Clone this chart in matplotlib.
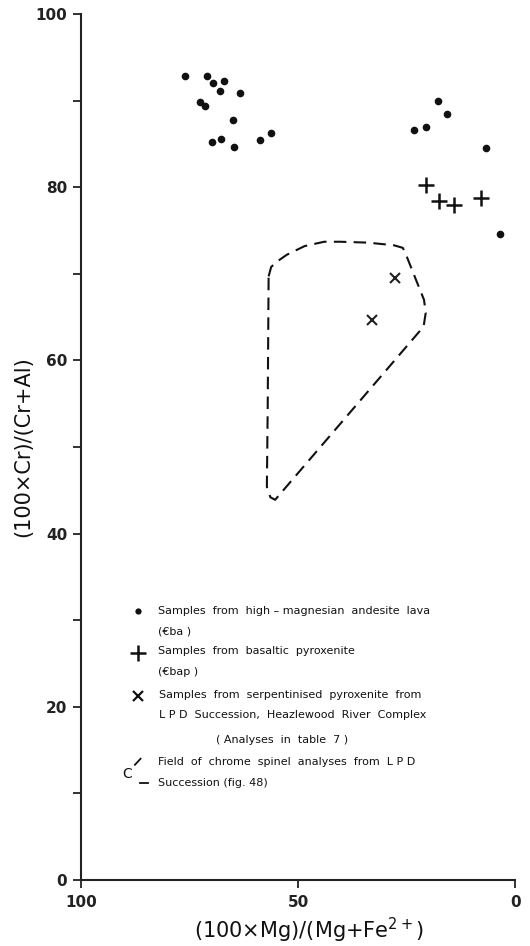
import matplotlib
matplotlib.use('Agg')
import matplotlib.pyplot as plt

# high-magnesian andesite lava (dots)
lava_x = [76.0, 71.0, 69.6, 67.0, 67.9, 63.4, 72.6, 71.4, 65.0, 69.9, 67.7, 64.7, 58.8, 56.3,
          17.8, 15.6, 23.4, 20.5, 6.8, 3.5]
lava_y = [92.8, 92.8, 92.0, 92.3, 91.1, 90.9, 89.8, 89.4, 87.8, 85.2, 85.6, 84.6, 85.5, 86.3,
          89.9, 88.5, 86.6, 87.0, 84.5, 74.6]
# basaltic pyroxenite (plus)
bap_x = [20.5, 17.6, 14.2, 7.8]
bap_y = [80.2, 78.4, 77.9, 78.8]
# serpentinised pyroxenite (x)
serp_x = [27.6, 33.0]
serp_y = [69.5, 64.7]
# field of chrome spinel analyses, LPD Succession (dashed outline)
field_x = [56.8, 56.2, 54.6, 52.6, 48.5, 44.0, 40.3, 34.0, 28.0, 25.9, 25.3, 23.0, 21.0, 20.6,
           21.1, 55.3, 56.4, 57.2, 57.0, 56.8]
field_y = [69.7, 70.8, 71.5, 72.2, 73.2, 73.7, 73.7, 73.6, 73.3, 73.0, 72.4, 69.5, 67.0, 65.5,
           63.9, 43.9, 44.2, 45.4, 55.0, 69.7]

x_ticks = [100, 50, 0]
y_ticks = [0, 20, 40, 60, 80, 100]
y_minor = [10, 30, 50, 70, 90]

fig = plt.figure(figsize=(5.3, 9.46), dpi=100)
ax = fig.add_axes([0.153, 0.0698, 0.819, 0.9154])

ax.plot(lava_x, lava_y, 'o', color='#111111', ms=5.5, mec='none')
ax.plot(bap_x, bap_y, '+', color='#111111', ms=11, mew=1.8)
ax.plot(serp_x, serp_y, 'x', color='#222222', ms=7, mew=1.5)
ax.plot(field_x, field_y, color='#111111', lw=1.5, dashes=(6, 3.5))

ax.set_xlim(100, 0)
ax.set_ylim(0, 100)
ax.spines['top'].set_visible(False)
ax.spines['right'].set_visible(False)
for s in ['left', 'bottom']:
    ax.spines[s].set_linewidth(1.5)
    ax.spines[s].set_color('#222222')
ax.set_xticks(x_ticks)
ax.set_xticklabels([str(t) for t in x_ticks])
ax.set_yticks(y_ticks)
ax.set_yticks(y_minor, minor=True)
ax.tick_params(axis='both', which='both', direction='out', width=1.3, color='#222222')
ax.tick_params(axis='x', which='major', length=6, labelsize=11, pad=5)
ax.tick_params(axis='y', which='major', length=6, labelsize=11, pad=4)
ax.tick_params(axis='y', which='minor', length=6)
for lab in ax.get_xticklabels() + ax.get_yticklabels():
    lab.set_fontweight('bold')
    lab.set_color('#222222')

ax.set_xlabel('(100×Mg)/(Mg+Fe$^{2+}$)', fontsize=15, color='#111111')
ax.xaxis.set_label_coords(0.525, -0.058)
ax.xaxis.label.set_va('center')
ax.set_ylabel('(100×Cr)/(Cr+Al)', fontsize=15, color='#111111')
ax.yaxis.set_label_coords(-0.134, 0.5)
ax.yaxis.label.set_va('center')

# legend block drawn in data space
fs = 8.0
tc = '#111111'
ax.plot([86.8], [31.1], 'o', color=tc, ms=4.5, mec='none')
ax.text(82.2, 31.1, 'Samples  from  high – magnesian  andesite  lava', fontsize=fs, va='center', color=tc)
ax.text(82.2, 28.7, '(€ba )', fontsize=fs, va='center', color=tc)
ax.plot([86.8], [26.2], '+', color=tc, ms=11, mew=1.8)
ax.text(82.2, 26.4, 'Samples  from  basaltic  pyroxenite', fontsize=fs, va='center', color=tc)
ax.text(82.2, 24.0, '(€bap )', fontsize=fs, va='center', color=tc)
ax.plot([86.9], [21.3], 'x', color=tc, ms=7, mew=1.6)
ax.text(82.0, 21.4, 'Samples  from  serpentinised  pyroxenite  from', fontsize=fs, va='center', color=tc)
ax.text(82.0, 19.1, 'L P D  Succession,  Heazlewood  River  Complex', fontsize=fs, va='center', color=tc)
ax.text(53.8, 16.2, '( Analyses  in  table  7 )', fontsize=fs, va='center', ha='center', color=tc)
ax.plot([87.6, 86.3], [13.3, 14.0], color=tc, lw=1.3)
ax.text(89.4, 12.2, 'C', fontsize=10, va='center', ha='center', color=tc)
ax.plot([86.4, 84.5], [11.2, 11.2], color=tc, lw=1.3)
ax.text(82.2, 13.6, 'Field  of  chrome  spinel  analyses  from  L P D', fontsize=fs, va='center', color=tc)
ax.text(82.2, 11.2, 'Succession (fig. 48)', fontsize=fs, va='center', color=tc)

fig.savefig('out.png', dpi=100)
